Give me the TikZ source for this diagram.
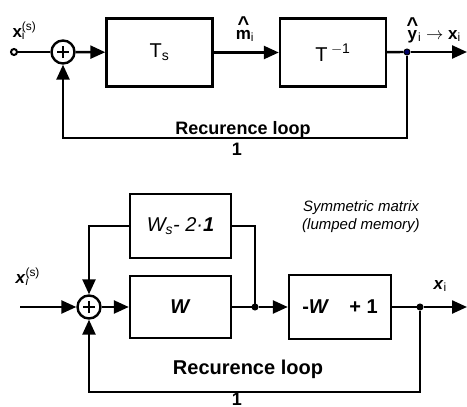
\documentclass[tikz,border=0pt]{standalone}
\usepackage{fontspec}
\setmainfont{Liberation Sans}
\usetikzlibrary{positioning,arrows.meta}
\newcommand{\hatbf}[1]{\leavevmode\vbox{\offinterlineskip\halign{\hfil##\hfil\cr{\bfseries\fontsize{20}{20}\selectfont\textasciicircum}\cr\noalign{\kern-1pt}\textbf{#1}\cr}}}

\begin{document}
\begin{tikzpicture}[x=1pt,y=-1pt,line width=2.4pt,
  box/.style={draw,minimum width=106pt,minimum height=68pt,font=\fontsize{20}{22}\selectfont},
  sumnode/.style={draw,circle,minimum size=23pt,inner sep=0pt,path picture={\draw[line width=1.8pt] (path picture bounding box.center) ++(-6pt,0) -- ++(12pt,0) (path picture bounding box.center) ++(0,-6pt) -- ++(0,12pt);}},
  jdot/.style={circle,draw,fill,inner sep=0pt,minimum size=6pt,line width=1pt},
  arr/.style={-{Triangle[length=15pt,width=13pt]}},
  lbl/.style={font=\fontsize{17}{19}\selectfont},
  loop/.style={font=\bfseries\fontsize{18}{20}\selectfont}]
\useasboundingbox (0,0) rectangle (467,407);
% upper structure
\node[circle,draw,fill=white,inner sep=0pt,minimum size=6pt,line width=2pt] (in1) at (14,52) {};
\node[sumnode] (sum1) at (63,52) {};
\node[box] (ts) at (159.5,52.5) {T\textsubscript{s}};
\node[box] (tinv) at (333,52.5) {T\,\textsuperscript{$-$1}};
\node[jdot,fill=blue!40!black] (out1dot) at (407,52) {};
\coordinate (out1) at (467,52);
\coordinate (fb1) at (63,138);
\node[lbl,anchor=base west] (xs1) at (8,37) {\textbf{x}\rlap{\textsuperscript{(s)}}\textsubscript{i}};
\node[lbl,anchor=base] (mhat) at (245,39) {\hatbf{m}\textsubscript{i}};
\node[lbl,anchor=base west] (yhat) at (402,39) {\hatbf{y}\textsubscript{i} $\rightarrow$ \textbf{x}\textsubscript{i}};
\node[loop,anchor=base] (rl1) at (243,134) {Recurence loop};
\node[loop,anchor=base] (one1) at (237,155) {1};
\draw (in1) -- (sum1);
\draw[arr] (sum1) -- (ts);
\draw[arr] (ts) -- (tinv);
\draw (tinv) -- (out1dot);
\draw[arr] (out1dot) -- (out1);
\draw[arr] (out1dot) |- (fb1) -- (sum1);
% lower structure
\coordinate (in2) at (20,307);
\node[sumnode] (sum2) at (89,307) {};
\node[box,minimum width=101pt,minimum height=62pt] (wbox) at (180.5,307) {\textbf{\textit{W}}};
\node[box,minimum width=101pt,minimum height=64pt] (wsbox) at (180.5,226) {\textit{W\textsubscript{s}- 2·\textbf{1}}};
\node[jdot] (d2) at (255,307) {};
\node[box,minimum width=102pt,minimum height=64pt] (mbox) at (340,307) {\textbf{-\textit{W}}\quad\textbf{+ 1}};
\node[jdot] (d3) at (420,307) {};
\coordinate (out2) at (467,307);
\coordinate (fb2) at (89,392);
\node[lbl,anchor=base west] (xs2) at (11,283) {\textbf{\textit{x}}\rlap{\textsuperscript{(s)}}\textsubscript{\textit{i}}};
\node[lbl,anchor=base west] (xi2) at (429,289) {\textbf{\textit{x}}\textsubscript{i}};
\node[align=center,font=\itshape\fontsize{15}{18}\selectfont] (sym) at (361,217) {Symmetric matrix\\(lumped memory)};
\node[loop,anchor=base,font=\bfseries\fontsize{20}{22}\selectfont] (rl2) at (248,374) {Recurence loop};
\node[loop,anchor=base] (one2) at (237,405) {1};
\draw[arr] (in2) -- (sum2);
\draw[arr] (sum2) -- (wbox);
\draw (wbox) -- (d2);
\draw (wsbox.east) -| (d2);
\draw[arr] (wsbox.west) -| (sum2);
\draw[arr] (d2) -- (mbox);
\draw (mbox) -- (d3);
\draw[arr] (d3) -- (out2);
\draw[arr] (d3) |- (fb2) -- (sum2);
\end{tikzpicture}
\end{document}
